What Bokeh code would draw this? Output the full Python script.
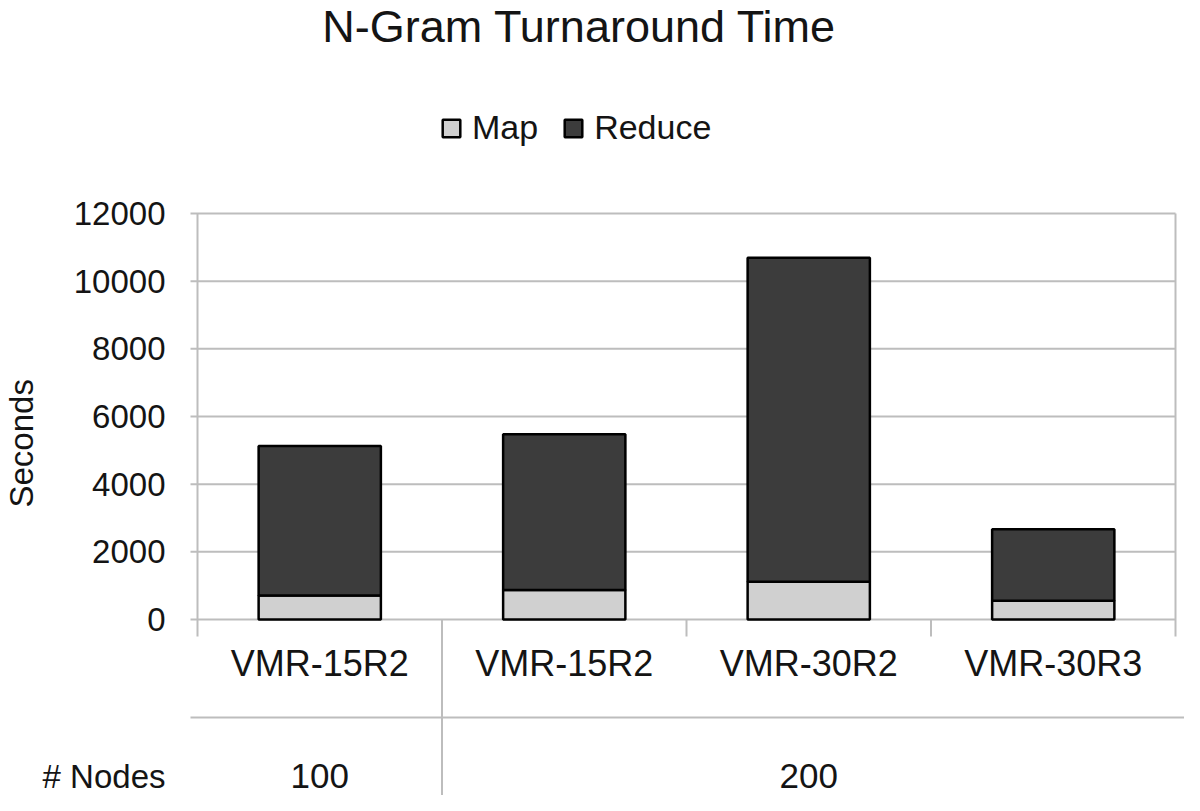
import numpy as np
from bokeh.plotting import figure
from bokeh.models import Range1d, FixedTicker, Legend, LegendItem, Title
from bokeh.core.properties import value
from bokeh.embed import file_html
from bokeh.resources import INLINE

# ---------------- data ----------------
title_text = "N-Gram Turnaround Time"
categories = ["VMR-15R2", "VMR-15R2", "VMR-30R2", "VMR-30R3"]
node_groups = ["100", "200"]
node_group_sizes = [1, 3]
map_vals = [712, 872, 1119, 555]
reduce_vals = [4413, 4600, 9576, 2116]
y_ticks = [0, 2000, 4000, 6000, 8000, 10000, 12000]
series_names = ["Map", "Reduce"]
y_label = "Seconds"
row_label = "# Nodes"

# ---------------- layout helpers (picture pixel -> data) ----------------
FONT = value("Liberation Sans")
TXT = "#141414"
GRID = "#bdbdbd"
MAP_C = "#d0d0d0"
RED_C = "#3c3c3c"

AX_X = 197.0           # x of category axis origin
CAT_PX = 244.5         # px per category
ZERO_Y = 619.0         # y of value 0
PX_PER_UNIT = 406.0 / 12000.0
W, H = 1184, 795
FRAME_L = 190


def dx(px):
    return (px - AX_X) / CAT_PX


def dy(py):
    return (ZERO_Y - py) / PX_PER_UNIT


ROW_Y = int(round(dy(776)))   # vertical position of the "# Nodes" table row

p = figure(width=W, height=H, output_backend="svg", toolbar_location=None,
           x_axis_type=None,
           x_range=Range1d(dx(FRAME_L), dx(W)),
           y_range=Range1d(dy(H), dy(0)),
           min_border_left=FRAME_L, min_border_right=0,
           min_border_top=0, min_border_bottom=0)
p.outline_line_color = None
p.xgrid.grid_line_color = None
p.ygrid.grid_line_color = None
p.background_fill_color = "white"
p.border_fill_color = "white"

# y axis (labels only; ticks drawn with grid segments); also carries the row header
ya = p.yaxis[0]
ya.ticker = FixedTicker(ticks=y_ticks + [ROW_Y])
ya.major_label_overrides = {ROW_Y: row_label}
ya.axis_line_color = None
ya.major_tick_line_color = None
ya.minor_tick_line_color = None
ya.major_tick_out = 0
ya.major_tick_in = 0
ya.major_label_standoff = 25
ya.major_label_text_font = "Liberation Sans"
ya.major_label_text_font_size = "33px"
ya.major_label_text_color = TXT

# vertical y title on the left
p.add_layout(Title(text=y_label, align="left", offset=H - 507, text_font="Liberation Sans",
                   text_font_size="33px", text_font_style="normal", text_color=TXT,
                   standoff=0), "left")

n = len(categories)
xc = np.arange(n) + 0.5
ymax = y_ticks[-1]

# horizontal grid lines (with left tick stubs)
p.segment(x0=[dx(179)] * len(y_ticks), y0=y_ticks, x1=[n] * len(y_ticks), y1=y_ticks,
          line_color=GRID, line_width=2)
# left axis line and right border
p.segment(x0=[0, n], y0=[dy(636), dy(636)], x1=[0, n], y1=[ymax, ymax],
          line_color=GRID, line_width=2)
# category boundary ticks below axis
bounds = np.arange(1, n)
p.segment(x0=bounds, y0=[0] * len(bounds), x1=bounds, y1=[dy(636)] * len(bounds),
          line_color=GRID, line_width=2)
# table separator lines
group_edges = np.cumsum(node_group_sizes)[:-1]
p.segment(x0=group_edges, y0=[0] * len(group_edges), x1=group_edges,
          y1=[dy(H + 20)] * len(group_edges), line_color=GRID, line_width=2)
p.segment(x0=[dx(185)], y0=[dy(717)], x1=[dx(1210)], y1=[dy(717)],
          line_color=GRID, line_width=2)

# bars
bw = 0.5
r_map = p.vbar(x=xc, width=bw, bottom=0, top=map_vals, fill_color=MAP_C,
               line_color="black", line_width=2.5)
tops = np.array(map_vals) + np.array(reduce_vals)
r_red = p.vbar(x=xc, width=bw, bottom=map_vals, top=tops, fill_color=RED_C,
               line_color="black", line_width=2.5)

# category labels
p.text(x=xc, y=[dy(663)] * n, text=categories, text_font=FONT, text_font_size="36px",
       text_color=TXT, text_align="center", text_baseline="middle")

# node group labels
starts = np.concatenate([[0], np.cumsum(node_group_sizes)[:-1]])
gcent = starts + np.array(node_group_sizes) / 2.0
p.text(x=gcent, y=[ROW_Y] * len(node_groups), text=node_groups, text_font=FONT,
       text_font_size="35px", text_color=TXT, text_align="center", text_baseline="middle")

# title
p.text(x=[dx(579)], y=[dy(26)], text=[title_text], text_font=FONT, text_font_size="45px",
       text_color=TXT, text_align="center", text_baseline="middle")

# legend
legend = Legend(items=[LegendItem(label=series_names[0], renderers=[r_map]),
                       LegendItem(label=series_names[1], renderers=[r_red])],
                orientation="horizontal", location=(440 - FRAME_L, H - 147),
                glyph_width=22, glyph_height=22, label_standoff=10, spacing=24,
                padding=0, margin=0, border_line_color=None, background_fill_alpha=0,
                label_text_font="Liberation Sans", label_text_font_size="34px",
                label_text_color=TXT)
p.add_layout(legend, "center")

open("out.html", "w").write(file_html(p, INLINE))
